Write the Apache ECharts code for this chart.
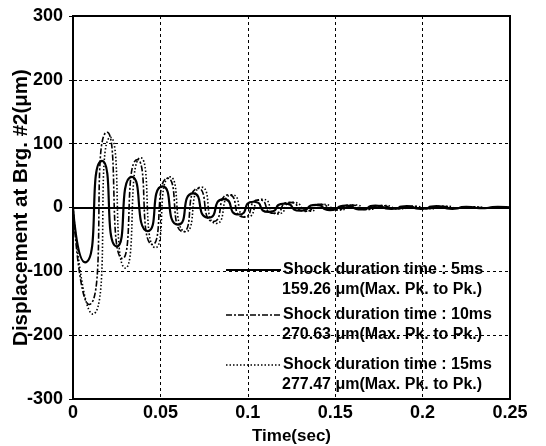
<!DOCTYPE html>
<html>
<head>
<meta charset="utf-8">
<script src="https://cdn.jsdelivr.net/npm/echarts@6/dist/echarts.min.js"></script>
<style>
  html, body { margin: 0; padding: 0; background: #fff; }
  #chart { width: 546px; height: 446px; }
</style>
</head>
<body>
<div id="chart"></div>
<script>
// peaks / troughs (time in sec, displacement in um)
const t5ms = [0, 0.0069, 0.0166, 0.0251, 0.0337, 0.0428, 0.0512, 0.0601, 0.0688, 0.0775, 0.0862, 0.0948, 0.1032, 0.112, 0.121, 0.130, 0.139, 0.147, 0.156, 0.165, 0.173, 0.182, 0.191, 0.199, 0.208, 0.217, 0.225, 0.234, 0.243, 0.25]
const y5ms = [0, -86, 73, -61, 48, -37, 33, -27, 22, -16, 13, -11, 9, -7, 6, -5, 4, -4, 3, -3, 3, -2, 2, -2, 2, -2, 1, -1, 1, 0]

const t10ms = [0, 0.0092, 0.0195, 0.0283, 0.0368, 0.0455, 0.0542, 0.0630, 0.0716, 0.0803, 0.0890, 0.0977, 0.1064, 0.115, 0.124, 0.133, 0.141, 0.150, 0.159, 0.167, 0.176, 0.185, 0.193, 0.202, 0.211, 0.219, 0.228, 0.237, 0.245, 0.25]
const y10ms = [0, -152, 118, -80, 75, -58, 46, -38, 30, -22, 20, -15, 12, -9, 8, -6, 5, -4, 4, -3, 3, -2, 2, -2, 2, -1, 1, -1, 1, 0]

const t15ms = [0, 0.0113, 0.0215, 0.0300, 0.0387, 0.0472, 0.0556, 0.0645, 0.0735, 0.0820, 0.0910, 0.0995, 0.1085, 0.117, 0.126, 0.135, 0.143, 0.152, 0.161, 0.169, 0.178, 0.187, 0.195, 0.204, 0.213, 0.221, 0.230, 0.239, 0.247, 0.25]
const y15ms = [0, -167, 110, -95, 78, -63, 48, -38, 32, -25, 20, -15, 13, -10, 8, -6, 5, -4, 4, -3, 3, -2, 2, -2, 2, -1, 1, -1, 1, 0]

const legendLine1 = ['Shock duration time : 5ms', 'Shock duration time : 10ms', 'Shock duration time : 15ms']
const legendLine2 = ['159.26 \u03bcm(Max. Pk. to Pk.)', '270.63 \u03bcm(Max. Pk. to Pk.)', '277.47 \u03bcm(Max. Pk. to Pk.)']

const font = 'Liberation Sans, Arial, sans-serif'
const zip = (t, y) => t.map((v, i) => [v, y[i]])

const chart = echarts.init(document.getElementById('chart'))

const dashes = [null, [6, 2, 2, 2], [1.5, 2]]
const legendY = [270, 315, 365]
const legendGraphics = []
legendY.forEach((y, i) => {
  legendGraphics.push({
    type: 'line',
    shape: { x1: 226, y1: y, x2: 281, y2: y },
    style: { stroke: '#000', lineWidth: i === 0 ? 2 : 1.5, lineDash: dashes[i] }
  })
  legendGraphics.push({
    type: 'text', x: 283, y: y,
    style: { text: legendLine1[i], font: 'bold 16px ' + font, fill: '#000', verticalAlign: 'middle' }
  })
  legendGraphics.push({
    type: 'text', x: 282, y: y + 20,
    style: { text: legendLine2[i], font: 'bold 16px ' + font, fill: '#000', verticalAlign: 'middle' }
  })
})

const lineSeries = (name, data, type, width) => ({
  name: name,
  type: 'line',
  data: data,
  smooth: 0.8,
  showSymbol: false,
  animation: false,
  lineStyle: { color: '#000', width: width, type: type }
})

chart.setOption({
  animation: false,
  grid: {
    left: 73, right: 36, top: 16, bottom: 47,
    outerBoundsMode: 'none',
    show: true, borderColor: '#000', borderWidth: 2
  },
  xAxis: [{
    type: 'value',
    min: 0, max: 0.25, interval: 0.05,
    name: 'Time(sec)',
    nameLocation: 'middle',
    nameGap: 29,
    nameMoveOverlap: false,
    nameTextStyle: { fontFamily: font, fontWeight: 'bold', fontSize: 17, color: '#000' },
    axisLine: { show: true, lineStyle: { color: '#000', width: 2 } },
    axisTick: { inside: true, length: 4, lineStyle: { color: '#000' } },
    axisLabel: { fontFamily: font, fontWeight: 'bold', fontSize: 18, color: '#000', margin: 5 },
    splitLine: { show: true, lineStyle: { color: '#000', type: [3, 3], width: 1 } }
  }, {
    type: 'value', position: 'top',
    min: 0, max: 0.25, interval: 0.05,
    axisLine: { show: true, lineStyle: { color: '#000', width: 2 } },
    axisTick: { inside: true, length: 4, lineStyle: { color: '#000' } },
    axisLabel: { show: false },
    splitLine: { show: false }
  }],
  yAxis: [{
    type: 'value',
    min: -300, max: 300, interval: 100,
    name: 'Displacement at Brg. #2(\u03bcm)',
    nameLocation: 'middle',
    nameGap: 41,
    nameMoveOverlap: false,
    nameTextStyle: { fontFamily: font, fontWeight: 'bold', fontSize: 20.5, color: '#000' },
    axisLine: { show: true, lineStyle: { color: '#000', width: 2 } },
    axisTick: { inside: true, length: 4, lineStyle: { color: '#000' } },
    axisLabel: { fontFamily: font, fontWeight: 'bold', fontSize: 18, color: '#000', margin: 10 },
    splitLine: { show: true, lineStyle: { color: '#000', type: [3, 3], width: 1 } }
  }, {
    type: 'value', position: 'right',
    min: -300, max: 300, interval: 100,
    axisLine: { show: true, lineStyle: { color: '#000', width: 2 } },
    axisTick: { inside: true, length: 4, lineStyle: { color: '#000' } },
    axisLabel: { show: false },
    splitLine: { show: false }
  }],
  graphic: legendGraphics,
  series: [
    lineSeries('5ms', zip(t5ms, y5ms), 'solid', 2.2),
    lineSeries('10ms', zip(t10ms, y10ms), [6, 2, 2, 2], 1.6),
    lineSeries('15ms', zip(t15ms, y15ms), [1.5, 2], 1.6)
  ]
})
</script>
</body>
</html>
